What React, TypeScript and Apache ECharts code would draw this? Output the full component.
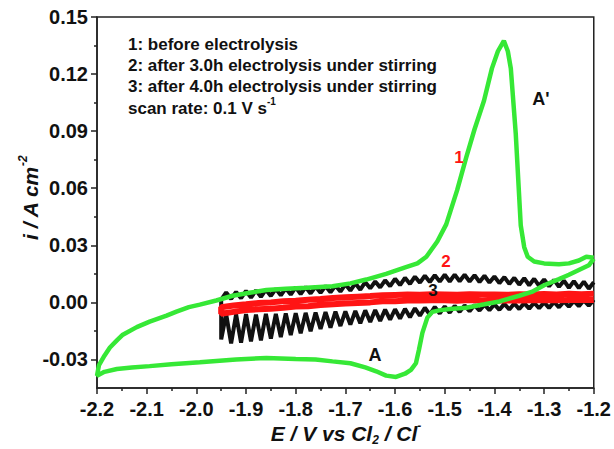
import React, { useEffect, useRef } from 'react';
import * as echarts from 'echarts';

const X_MIN = -2.2;
const X_MAX = -1.2;
const Y_MIN = -0.045;
const Y_MAX = 0.15;
const Y_MAJOR_TICKS = [-0.03, 0.0, 0.03, 0.06, 0.09, 0.12, 0.15];
const Y_MINOR_TICKS = [-0.015, 0.015, 0.045, 0.075, 0.105, 0.135];

const LEGEND_LINES = [
  '1: before electrolysis',
  '2: after 3.0h electrolysis under stirring',
  '3: after 4.0h electrolysis under stirring',
];

// Curve 1 (green): closed CV loop
const GREEN_E = [
  -1.200, -1.210, -1.230, -1.250, -1.270, -1.300, -1.325, -1.350, -1.390, -1.420,
  -1.457, -1.490, -1.511, -1.525, -1.535, -1.545, -1.552, -1.558, -1.568, -1.580,
  -1.598, -1.618, -1.638, -1.660, -1.690, -1.726, -1.760, -1.800, -1.859, -1.920,
  -1.993, -2.050, -2.094, -2.130, -2.160, -2.185, -2.200,
  -2.196, -2.185, -2.174, -2.160, -2.148, -2.120, -2.094, -2.060, -2.040, -2.015,
  -1.993, -1.960, -1.927, -1.890, -1.859, -1.820, -1.778, -1.726, -1.690, -1.658,
  -1.618, -1.578, -1.555, -1.537, -1.515, -1.497, -1.475, -1.457, -1.440, -1.421,
  -1.405, -1.393, -1.381, -1.373, -1.367, -1.357, -1.347, -1.340, -1.333, -1.320,
  -1.300, -1.270, -1.250, -1.230, -1.215, -1.200,
];
const GREEN_I = [
  0.0230, 0.0195, 0.0170, 0.0145, 0.0122, 0.0090, 0.0055, 0.0035, 0.0005, -0.0010,
  -0.0028, -0.0035, -0.0042, -0.0050, -0.0080, -0.0160, -0.0250, -0.0320, -0.0355, -0.0375,
  -0.0392, -0.0385, -0.0362, -0.0342, -0.0320, -0.0310, -0.0300, -0.0298, -0.0292, -0.0300,
  -0.0315, -0.0325, -0.0335, -0.0342, -0.0350, -0.0365, -0.0385,
  -0.0330, -0.0280, -0.0237, -0.0200, -0.0170, -0.0130, -0.0101, -0.0070, -0.0049, -0.0025,
  -0.0012, 0.0010, 0.0035, 0.0052, 0.0065, 0.0072, 0.0077, 0.0085, 0.0100, 0.0120,
  0.0150, 0.0185, 0.0205, 0.0240, 0.0320, 0.0410, 0.0590, 0.0760, 0.0910, 0.1060,
  0.1230, 0.1320, 0.1375, 0.1320, 0.1230, 0.0885, 0.0405, 0.0290, 0.0240, 0.0215,
  0.0205, 0.0200, 0.0205, 0.0220, 0.0240, 0.0235,
];

// Curve 3 (black): oscillating loop, sampled at each peak / trough
const BLACK_E = [
  -1.95, -1.94, -1.93, -1.92, -1.91, -1.90, -1.89, -1.88, -1.87, -1.86,
  -1.85, -1.84, -1.83, -1.82, -1.81, -1.80, -1.79, -1.78, -1.77, -1.76,
  -1.75, -1.74, -1.73, -1.72, -1.71, -1.70, -1.69, -1.68, -1.67, -1.66,
  -1.65, -1.64, -1.63, -1.62, -1.61, -1.60, -1.59, -1.58, -1.57, -1.56,
  -1.55, -1.54, -1.53, -1.52, -1.51, -1.50, -1.49, -1.48, -1.47, -1.46,
  -1.45, -1.44, -1.43, -1.42, -1.41, -1.40, -1.39, -1.38, -1.37, -1.36,
  -1.35, -1.34, -1.33, -1.32, -1.31, -1.30, -1.29, -1.28, -1.27, -1.26,
  -1.25, -1.24, -1.23, -1.22, -1.21, -1.20,
];
const BLACK_UPPER = [
  0.0015, 0.0052, 0.0018, 0.0055, 0.0022, 0.0060, 0.0025, 0.0063, 0.0029, 0.0067,
  0.0034, 0.0071, 0.0037, 0.0074, 0.0041, 0.0079, 0.0044, 0.0081, 0.0047, 0.0083,
  0.0050, 0.0086, 0.0053, 0.0089, 0.0057, 0.0095, 0.0062, 0.0100, 0.0067, 0.0106,
  0.0074, 0.0110, 0.0079, 0.0116, 0.0085, 0.0124, 0.0091, 0.0129, 0.0097, 0.0135,
  0.0104, 0.0140, 0.0107, 0.0143, 0.0109, 0.0145, 0.0110, 0.0146, 0.0111, 0.0145,
  0.0110, 0.0143, 0.0107, 0.0140, 0.0104, 0.0136, 0.0101, 0.0133, 0.0097, 0.0129,
  0.0093, 0.0127, 0.0090, 0.0124, 0.0087, 0.0121, 0.0085, 0.0118, 0.0082, 0.0114,
  0.0077, 0.0112, 0.0075, 0.0109, 0.0072, 0.0106,
];
const BLACK_LOWER = [
  -0.0195, -0.0062, -0.0215, -0.0063, -0.0212, -0.0062, -0.0205, -0.0064, -0.0200, -0.0061,
  -0.0190, -0.0060, -0.0182, -0.0058, -0.0172, -0.0057, -0.0163, -0.0055, -0.0152, -0.0053,
  -0.0140, -0.0051, -0.0133, -0.0049, -0.0124, -0.0047, -0.0117, -0.0045, -0.0110, -0.0042,
  -0.0103, -0.0040, -0.0097, -0.0038, -0.0091, -0.0036, -0.0085, -0.0034, -0.0078, -0.0031,
  -0.0070, -0.0028, -0.0064, -0.0024, -0.0058, -0.0021, -0.0054, -0.0018, -0.0050, -0.0016,
  -0.0046, -0.0014, -0.0043, -0.0012, -0.0041, -0.0010, -0.0039, -0.0008, -0.0037, -0.0006,
  -0.0035, -0.0004, -0.0033, -0.0002, -0.0031, 0.0000, -0.0029, 0.0002, -0.0026, 0.0005,
  -0.0023, 0.0008, -0.0020, 0.0011, -0.0017, 0.0014,
];

// Curve 2 (red): thin loop
const RED_E = [
  -1.950, -1.925, -1.900, -1.875, -1.850, -1.825, -1.800, -1.775, -1.750, -1.725,
  -1.700, -1.675, -1.650, -1.625, -1.600, -1.575, -1.550, -1.525, -1.500, -1.475,
  -1.450, -1.425, -1.400, -1.375, -1.350, -1.325, -1.300, -1.275, -1.250, -1.225,
  -1.200,
];
const RED_UPPER = [
  -0.0026, -0.0016, -0.0010, -0.0003, 0.0000, 0.0006, 0.0009, 0.0014, 0.0018, 0.0023,
  0.0027, 0.0030, 0.0033, 0.0037, 0.0039, 0.0041, 0.0040, 0.0043, 0.0042, 0.0040,
  0.0043, 0.0041, 0.0042, 0.0040, 0.0043, 0.0042, 0.0044, 0.0042, 0.0045, 0.0043,
  0.0045,
];
const RED_LOWER = [
  -0.0060, -0.0050, -0.0040, -0.0036, -0.0033, -0.0028, -0.0022, -0.0020, -0.0014, -0.0010,
  -0.0006, -0.0003, 0.0000, 0.0006, 0.0006, 0.0010, 0.0010, 0.0011, 0.0011, 0.0008,
  0.0012, 0.0009, 0.0011, 0.0010, 0.0010, 0.0011, 0.0012, 0.0011, 0.0013, 0.0012,
  0.0013,
];

const FONT = '"Liberation Sans", Arial, Helvetica, sans-serif';
const GREEN = '#36e836';
const RED = '#ff1414';
const BLACK = '#111111';

function loop(e: number[], upper: number[], lower: number[]) {
  const up = e.map((x, i) => [x, upper[i]]).reverse();
  const low = e.map((x, i) => [x, lower[i]]);
  return up.concat(low);
}

export default function App() {
  const ref = useRef<HTMLDivElement>(null);
  useEffect(() => {
    if (!ref.current) return;
    const chart = echarts.init(ref.current, null, { renderer: 'svg' });
    const greenData = GREEN_E.map((x, i) => [x, GREEN_I[i]]);
    const blackData = loop(BLACK_E, BLACK_UPPER, BLACK_LOWER);
    const redData = loop(RED_E, RED_UPPER, RED_LOWER);

    const labelStyle = { fontFamily: FONT, fontWeight: 'bold' as const, fontSize: 20, color: BLACK };
    const legendY = [44, 65, 86.5];

    chart.setOption({
      animation: false,
      backgroundColor: '#ffffff',
      grid: {
        left: 97, right: 19, top: 17, bottom: 61,
        show: true, borderColor: '#222', borderWidth: 1.5, backgroundColor: 'transparent',
      },
      xAxis: {
        type: 'value', min: X_MIN, max: X_MAX, interval: 0.1,
        axisLine: { onZero: false, lineStyle: { color: '#222', width: 1.5 } },
        axisTick: { inside: false, length: 6, lineStyle: { color: '#222', width: 1.5 } },
        minorTick: { show: true, splitNumber: 2, length: 3, lineStyle: { color: '#222', width: 1.5 } },
        splitLine: { show: false },
        axisLabel: { ...labelStyle, margin: 11, formatter: (v: number) => v.toFixed(1) },
      },
      yAxis: [
        {
          type: 'value', min: Y_MIN, max: Y_MAX, position: 'left',
          axisLine: { show: true, onZero: false, lineStyle: { color: '#222', width: 1.5 } },
          axisTick: { show: true, length: 6, customValues: Y_MAJOR_TICKS, lineStyle: { color: '#222', width: 1.5 } },
          splitLine: { show: false },
          axisLabel: { ...labelStyle, margin: 9, customValues: Y_MAJOR_TICKS, formatter: (v: number) => v.toFixed(2) },
        },
        {
          type: 'value', min: Y_MIN, max: Y_MAX, position: 'left', offset: 0,
          axisLine: { show: false },
          axisTick: { show: true, length: 3, customValues: Y_MINOR_TICKS, lineStyle: { color: '#222', width: 1.5 } },
          splitLine: { show: false },
          axisLabel: { show: false },
        },
      ],
      series: [
        {
          type: 'line', name: '3', data: blackData, showSymbol: false, symbol: 'none',
          lineStyle: { color: BLACK, width: 4 }, z: 2,
        },
        {
          type: 'line', name: '2', data: redData, showSymbol: false, symbol: 'none',
          lineStyle: { color: RED, width: 6 }, z: 3,
        },
        {
          type: 'line', name: '1', data: greenData, showSymbol: false, symbol: 'none',
          lineStyle: { color: GREEN, width: 4.5 }, z: 4,
        },
      ],
      graphic: [
        ...LEGEND_LINES.map((t, i) => ({
          type: 'text', x: 128, y: legendY[i], z: 20,
          style: { text: t, font: `bold 17px ${FONT}`, fill: BLACK, align: 'left', verticalAlign: 'middle' },
        })),
        {
          type: 'text', x: 128, y: 106.5, z: 20,
          style: {
            text: '{n|scan rate: 0.1 V s}{s|-1}', fill: BLACK, align: 'left', verticalAlign: 'middle',
            rich: {
              n: { font: `bold 17px ${FONT}`, fill: BLACK, lineHeight: 20, verticalAlign: 'bottom' },
              s: { font: `bold 10px ${FONT}`, fill: BLACK, lineHeight: 20, verticalAlign: 'top' },
            },
          },
        },
        {
          type: 'text', x: 346, y: 433, z: 20,
          style: {
            text: '{n|E / V vs Cl}{b|2}{n| / Cl}{t|-}', fill: BLACK, align: 'center', verticalAlign: 'middle',
            rich: {
              n: { font: `italic bold 21px ${FONT}`, fill: BLACK, lineHeight: 26, verticalAlign: 'middle' },
              b: { font: `italic bold 12px ${FONT}`, fill: BLACK, lineHeight: 26, verticalAlign: 'bottom' },
              t: { font: `italic bold 12px ${FONT}`, fill: BLACK, lineHeight: 26, verticalAlign: 'top' },
            },
          },
        },
        {
          type: 'text', x: 30, y: 198, rotation: Math.PI / 2, z: 20,
          style: {
            text: '{n|i / A cm}{t|-2}', fill: BLACK, align: 'center', verticalAlign: 'middle',
            rich: {
              n: { font: `italic bold 21px ${FONT}`, fill: BLACK, lineHeight: 26, verticalAlign: 'middle' },
              t: { font: `italic bold 12px ${FONT}`, fill: BLACK, lineHeight: 26, verticalAlign: 'top' },
            },
          },
        },
        { type: 'text', x: 541, y: 99, z: 20, style: { text: "A'", font: `bold 18px ${FONT}`, fill: BLACK, align: 'center', verticalAlign: 'middle' } },
        { type: 'text', x: 375, y: 355, z: 20, style: { text: 'A', font: `bold 18px ${FONT}`, fill: BLACK, align: 'center', verticalAlign: 'middle' } },
        { type: 'text', x: 459, y: 157, z: 20, style: { text: '1', font: `bold 17px ${FONT}`, fill: RED, align: 'center', verticalAlign: 'middle' } },
        { type: 'text', x: 446, y: 261, z: 20, style: { text: '2', font: `bold 17px ${FONT}`, fill: RED, align: 'center', verticalAlign: 'middle' } },
        { type: 'text', x: 433, y: 290, z: 20, style: { text: '3', font: `bold 17px ${FONT}`, fill: BLACK, align: 'center', verticalAlign: 'middle' } },
      ],
    });
    return () => chart.dispose();
  }, []);
  return <div ref={ref} style={{ position: 'fixed', left: 0, top: 0, width: 614, height: 449, background: '#fff' }} />;
}
